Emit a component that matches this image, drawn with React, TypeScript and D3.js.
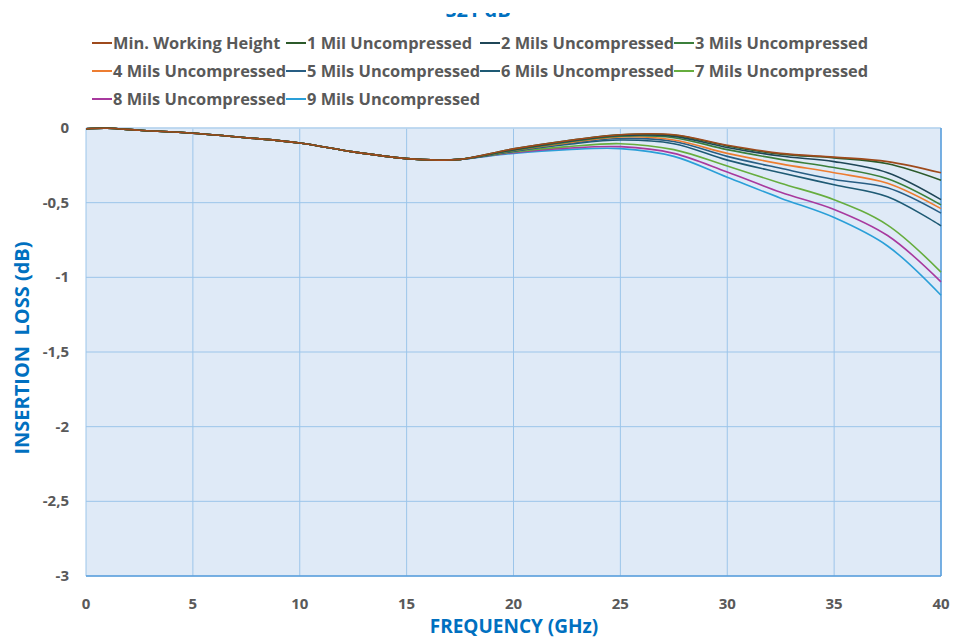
import * as React from 'react'
import * as d3 from 'd3'

// frequency points (GHz)
const freqs = [0, 1, 2.5, 5, 7.5, 10, 12.5, 15, 16.5, 17.5, 20, 22.5, 25, 27.5, 30, 32.5, 35, 37.5, 40]

// shared low-frequency part (0 .. 17.5 GHz)
const common = [-0.005, -0.002, -0.015, -0.035, -0.065, -0.1, -0.16, -0.205, -0.215, -0.21]

// values from 20 GHz on, per series
const minWorking = [-0.14, -0.085, -0.045, -0.045, -0.115, -0.17, -0.195, -0.225, -0.3]
const mil1 = [-0.14, -0.085, -0.045, -0.048, -0.12, -0.175, -0.2, -0.24, -0.35]
const mil2 = [-0.145, -0.09, -0.05, -0.056, -0.13, -0.188, -0.225, -0.3, -0.48]
const mil3 = [-0.15, -0.095, -0.055, -0.065, -0.145, -0.21, -0.265, -0.34, -0.515]
const mil4 = [-0.15, -0.1, -0.06, -0.08, -0.17, -0.24, -0.3, -0.37, -0.54]
const mil5 = [-0.155, -0.105, -0.07, -0.09, -0.19, -0.27, -0.345, -0.4, -0.57]
const mil6 = [-0.155, -0.11, -0.08, -0.105, -0.215, -0.3, -0.38, -0.46, -0.655]
const mil7 = [-0.16, -0.125, -0.105, -0.145, -0.255, -0.37, -0.48, -0.65, -0.965]
const mil8 = [-0.165, -0.135, -0.125, -0.17, -0.295, -0.43, -0.545, -0.72, -1.03]
const mil9 = [-0.17, -0.145, -0.138, -0.19, -0.33, -0.47, -0.6, -0.79, -1.12]

const seriesNames = [
    'Min. Working Height', '1 Mil Uncompressed', '2 Mils Uncompressed', '3 Mils Uncompressed',
    '4 Mils Uncompressed', '5 Mils Uncompressed', '6 Mils Uncompressed', '7 Mils Uncompressed',
    '8 Mils Uncompressed', '9 Mils Uncompressed',
]
const seriesValues = [minWorking, mil1, mil2, mil3, mil4, mil5, mil6, mil7, mil8, mil9]
const seriesColors = [
    '#9e4a1c', '#2c5a2a', '#1f4657', '#3b7f3b', '#ed7d31',
    '#285e84', '#1e5a74', '#66ad3e', '#a8399e', '#2a9fd8',
]

const xTicks = [0, 5, 10, 15, 20, 25, 30, 35, 40]
const yTicks = [0, -0.5, -1, -1.5, -2, -2.5, -3]

const W = 968
const H = 639
const plot = { left: 86, right: 941, top: 128, bottom: 576 }
const FONT = '"Open Sans", "DejaVu Sans", sans-serif'

const fmt = (v: number) => (v === 0 ? '0' : String(v).replace('.', ','))

export default function App() {
    const x = d3.scaleLinear().domain([0, 40]).range([plot.left, plot.right])
    const y = d3.scaleLinear().domain([-3, 0]).range([plot.bottom, plot.top])

    const line = d3.line<[number, number]>()
        .x(d => x(d[0]))
        .y(d => y(d[1]))
        .curve(d3.curveCatmullRom.alpha(0.5))

    const series = seriesValues.map(vals => {
        const all = common.concat(vals)
        return freqs.map((f, i) => [f, all[i]] as [number, number])
    })

    // legend: 4 columns, rows of 28px
    const legendCol = (i: number) => 92 + (i % 4) * 194
    const legendRow = (i: number) => 43 + Math.floor(i / 4) * 28

    return (
        <svg width={W} height={H} style={{ position: 'absolute', left: 0, top: 0, background: '#fff' }}
            fontFamily={FONT}>
            <defs>
                <clipPath id='titleClip'>
                    <rect x={0} y={13} width={W} height={6} />
                </clipPath>
            </defs>

            {/* title, cut off at the top */}
            <text x={478} y={17} textAnchor='middle' fontSize={20} fontWeight={700} fill='#0070c0'
                clipPath='url(#titleClip)'>S21 dB</text>

            {/* legend */}
            {seriesNames.map((name, i) => (
                <g key={name}>
                    <line x1={legendCol(i)} x2={legendCol(i) + 20} y1={legendRow(i)} y2={legendRow(i)}
                        stroke={seriesColors[i]} strokeWidth={2} />
                    <text x={legendCol(i) + 21} y={legendRow(i) + 6} fontSize={16.4} fontWeight={700}
                        fill='#595959'>{name}</text>
                </g>
            ))}

            {/* plot area */}
            <rect x={plot.left} y={plot.top} width={plot.right - plot.left} height={plot.bottom - plot.top}
                fill='#dfeaf7' />
            {xTicks.map(t => (
                <line key={'gx' + t} x1={x(t)} x2={x(t)} y1={plot.top} y2={plot.bottom}
                    stroke='#9cc5ea' strokeWidth={1} />
            ))}
            {yTicks.map(t => (
                <line key={'gy' + t} x1={plot.left} x2={plot.right} y1={y(t)} y2={y(t)}
                    stroke='#9cc5ea' strokeWidth={1} />
            ))}
            <line x1={plot.left} x2={plot.right} y1={plot.top} y2={plot.top} stroke='#bcd7ef' strokeWidth={1.5} />
            <line x1={plot.right} x2={plot.right} y1={plot.top} y2={plot.bottom} stroke='#5a9fdc' strokeWidth={1.5} />
            <line x1={plot.left} x2={plot.right} y1={plot.bottom} y2={plot.bottom} stroke='#5a9fdc' strokeWidth={1.5} />

            {/* curves, bottom ones first */}
            {series.map((s, i) => i).reverse().map(i => (
                <path key={'s' + i} d={line(series[i]) || ''} fill='none' stroke={seriesColors[i]}
                    strokeWidth={1.6} strokeLinejoin='round' />
            ))}

            {/* tick labels */}
            {xTicks.map(t => (
                <text key={'tx' + t} x={x(t)} y={609} textAnchor='middle' fontSize={15} fontWeight={700}
                    fill='#595959'>{t}</text>
            ))}
            {yTicks.map(t => (
                <text key={'ty' + t} x={69} y={y(t) + 5} textAnchor='end' fontSize={15} fontWeight={700}
                    fill='#595959'>{fmt(t)}</text>
            ))}

            {/* axis titles */}
            <text x={514} y={633} textAnchor='middle' fontSize={19} fontWeight={700} fill='#0070c0'>
                FREQUENCY (GHz)
            </text>
            <text transform={`translate(29,${(plot.top + plot.bottom) / 2 - 4}) rotate(-90)`} textAnchor='middle'
                fontSize={20} fontWeight={700} fill='#0070c0' style={{ whiteSpace: 'pre' }}>
                {'INSERTION  LOSS (dB)'}
            </text>
        </svg>
    )
}
